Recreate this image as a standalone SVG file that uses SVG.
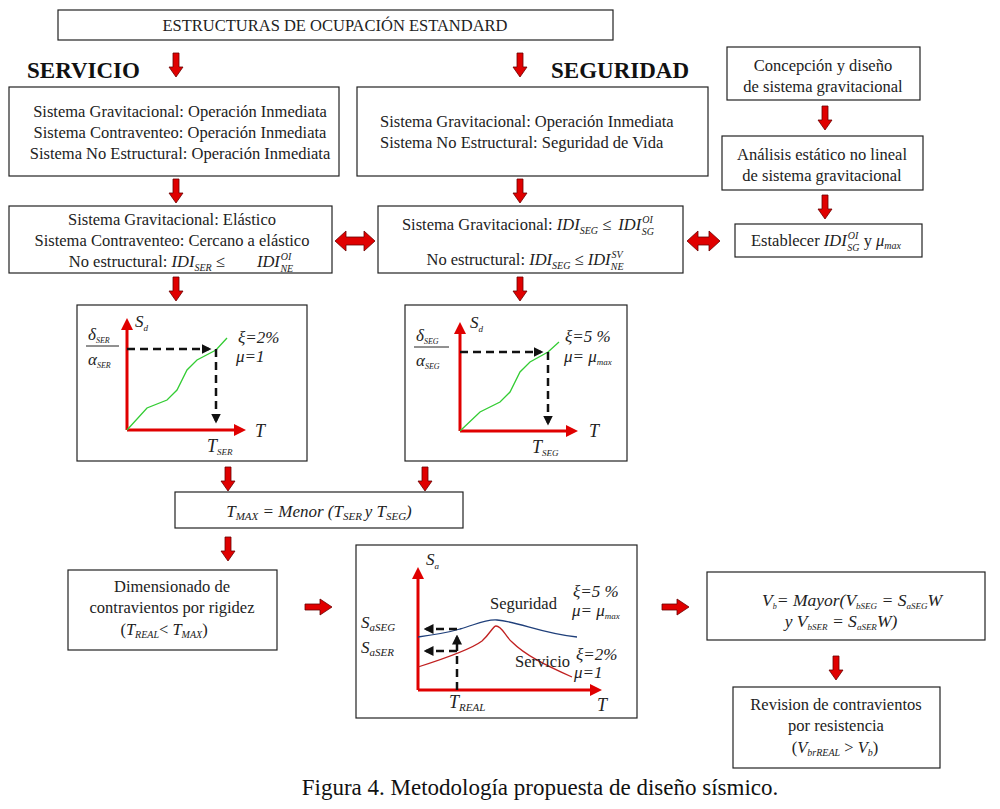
<svg xmlns="http://www.w3.org/2000/svg" width="1000" height="809" viewBox="0 0 1000 809" font-family="Liberation Serif, serif">
<defs>
<style>
.box{fill:#fff;stroke:#222;stroke-width:1.2}
.t{font-family:"Liberation Serif",serif;font-size:16.5px;fill:#222}
.c{text-anchor:middle}
.i{font-style:italic}
.s{font-style:italic;font-size:10px}
.h{font-family:"Liberation Serif",serif;font-size:23px;font-weight:bold;fill:#111}
.arr{fill:#e00000;stroke:#6a0000;stroke-width:0.8}
.ax{stroke:#e00000;stroke-width:3;fill:none}
.dash{stroke:#111;stroke-width:2.5;stroke-dasharray:8,5;fill:none}
.m{font-family:"Liberation Serif",serif;font-style:italic;fill:#222}
</style>
<path id="dn" d="M-3,0 H3 V14 H7 L0,24 L-7,14 H-3 Z"/>
<path id="rt" d="M0,-3 H15 V-8 L27,0 L15,8 V3 H0 Z"/>
<marker id="ra" markerWidth="4" markerHeight="4" refX="2" refY="2" orient="auto" markerUnits="strokeWidth"><path d="M0,0 L4,2 L0,4 Z" fill="#e00000"/></marker>
<marker id="ka" markerWidth="4" markerHeight="4" refX="3" refY="2" orient="auto" markerUnits="strokeWidth"><path d="M0,0 L4,2 L0,4 Z" fill="#111"/></marker>
</defs>
<rect width="1000" height="809" fill="#fff"/>

<g id="top">
<rect class="box" x="58" y="10" width="555" height="30"/>
<text class="t c" x="335" y="31">ESTRUCTURAS DE OCUPACIÓN ESTANDARD</text>
</g>
<text class="h" x="27" y="78">SERVICIO</text>
<text class="h" x="551" y="78">SEGURIDAD</text>

<g id="serv1">
<rect class="box" x="9" y="87" width="330" height="89"/>
<text class="t c" x="180" y="117">Sistema Gravitacional: Operación Inmediata</text>
<text class="t c" x="180" y="138">Sistema Contraventeo: Operación Inmediata</text>
<text class="t c" x="180" y="159">Sistema No Estructural: Operación Inmediata</text>
</g>
<g id="seg1">
<rect class="box" x="357" y="87" width="351" height="89"/>
<text class="t" x="380" y="127">Sistema Gravitacional: Operación Inmediata</text>
<text class="t" x="380" y="148">Sistema No Estructural: Seguridad de Vida</text>
</g>
<g id="grav1">
<rect class="box" x="727" y="47" width="193" height="53"/>
<text class="t c" x="823" y="71">Concepción y diseño</text>
<text class="t c" x="823" y="92">de sistema gravitacional</text>
</g>
<g id="grav2">
<rect class="box" x="722" y="136" width="201" height="54"/>
<text class="t c" x="822" y="160">Análisis estático no lineal</text>
<text class="t c" x="822" y="181">de sistema gravitacional</text>
</g>
<g id="grav3">
<rect class="box" x="735" y="224" width="187" height="33"/>
<text class="t c" x="826" y="246">Establecer <tspan class="i">IDI</tspan><tspan class="s" dx="1" dy="-7">OI</tspan><tspan class="s" dx="-11" dy="12">SG</tspan><tspan dy="-5">  y </tspan><tspan class="i">μ</tspan><tspan class="s" dy="3">max</tspan></text>
</g>

<g id="serv2">
<rect class="box" x="9" y="206" width="323" height="67"/>
<text class="t c" x="172" y="225">Sistema Gravitacional: Elástico</text>
<text class="t c" x="172" y="246">Sistema Contraventeo: Cercano a elástico</text>
<text class="t c" x="181" y="267">No estructural: <tspan class="i">IDI</tspan><tspan class="s" dy="4">SER</tspan><tspan dy="-4"> ≤ </tspan><tspan class="i" dx="28">IDI</tspan><tspan class="s" dx="1" dy="-7">OI</tspan><tspan class="s" dx="-11" dy="12">NE</tspan></text>
</g>
<g id="seg2">
<rect class="box" x="378" y="206" width="305" height="67"/>
<text class="t c" x="528" y="230">Sistema Gravitacional: <tspan class="i">IDI</tspan><tspan class="s" dy="4">SEG</tspan><tspan dy="-4"> ≤ </tspan><tspan class="i" dx="3">IDI</tspan><tspan class="s" dx="1" dy="-7">OI</tspan><tspan class="s" dx="-11" dy="12">SG</tspan></text>
<text class="t c" x="525" y="265">No estructural: <tspan class="i">IDI</tspan><tspan class="s" dy="4">SEG</tspan><tspan dy="-4"> ≤ </tspan><tspan class="i">IDI</tspan><tspan class="s" dx="1" dy="-7">SV</tspan><tspan class="s" dx="-12" dy="12">NE</tspan></text>
</g>

<g id="chartSer">
<rect class="box" x="77" y="305" width="230" height="156"/>
<line class="ax" x1="127" y1="430" x2="127" y2="324" marker-end="url(#ra)"/>
<line class="ax" x1="127" y1="430" x2="240" y2="430" marker-end="url(#ra)"/>
<path d="M127,430 L147,408 L167,400 L177,390 L187,370 L197,360 L216,350 L227,338" fill="none" stroke="#33cc33" stroke-width="1.3"/>
<line class="dash" x1="127" y1="349" x2="209" y2="349" marker-end="url(#ka)"/>
<line class="dash" x1="216" y1="349" x2="216" y2="421" marker-end="url(#ka)"/>
<text class="m" x="135" y="327" font-size="17">S<tspan font-size="9" dy="4">d</tspan></text>
<text class="m" x="88" y="340" font-size="17">δ<tspan font-size="8" dy="3">SER</tspan></text>
<line x1="86" y1="346" x2="119" y2="346" stroke="#222" stroke-width="1"/>
<text class="m" x="88" y="365" font-size="17">α<tspan font-size="8" dy="3">SER</tspan></text>
<text class="m" x="238" y="343" font-size="17">ξ=2%</text>
<text class="m" x="236" y="362" font-size="17">μ=1</text>
<text class="m" x="255" y="437" font-size="18">T</text>
<text class="m" x="207" y="452" font-size="18">T<tspan font-size="9" dy="3">SER</tspan></text>
</g>

<g id="chartSeg">
<rect class="box" x="405" y="305" width="222" height="156"/>
<line class="ax" x1="460" y1="431" x2="460" y2="328" marker-end="url(#ra)"/>
<line class="ax" x1="460" y1="431" x2="572" y2="431" marker-end="url(#ra)"/>
<path d="M460,431 L480,412 L500,402 L510,392 L520,372 L530,362 L548,352 L559,342" fill="none" stroke="#33cc33" stroke-width="1.3"/>
<line class="dash" x1="460" y1="352" x2="541" y2="352" marker-end="url(#ka)"/>
<line class="dash" x1="548" y1="352" x2="548" y2="423" marker-end="url(#ka)"/>
<text class="m" x="470" y="328" font-size="17">S<tspan font-size="9" dy="4">d</tspan></text>
<text class="m" x="416" y="341" font-size="17">δ<tspan font-size="8" dy="3">SEG</tspan></text>
<line x1="414" y1="347" x2="449" y2="347" stroke="#222" stroke-width="1"/>
<text class="m" x="416" y="366" font-size="17">α<tspan font-size="8" dy="3">SEG</tspan></text>
<text class="m" x="565" y="342" font-size="17">ξ=5 %</text>
<text class="m" x="564" y="362" font-size="17">μ= μ<tspan font-size="9" dy="3">max</tspan></text>
<text class="m" x="589" y="437" font-size="18">T</text>
<text class="m" x="532" y="453" font-size="18">T<tspan font-size="9" dy="3">SEG</tspan></text>
</g>

<g id="tmax">
<rect class="box" x="175" y="492" width="288" height="36"/>
<text class="m c" x="319" y="517" font-size="17">T<tspan font-size="11" dy="3">MAX</tspan><tspan dy="-3"> = Menor (T</tspan><tspan font-size="11" dy="3">SER </tspan><tspan dy="-3">y T</tspan><tspan font-size="11" dy="3">SEG</tspan><tspan dy="-3">)</tspan></text>
</g>

<g id="dimens">
<rect class="box" x="68" y="570" width="209" height="80"/>
<text class="t c" x="172" y="592">Dimensionado de</text>
<text class="t c" x="172" y="613">contravientos por rigidez</text>
<text class="t c" x="164" y="635">(<tspan class="i">T</tspan><tspan class="s" dy="3">REAL</tspan><tspan dy="-3">&lt; </tspan><tspan class="i">T</tspan><tspan class="s" dy="3">MAX</tspan><tspan dy="-3">)</tspan></text>
</g>

<g id="chartSa">
<rect class="box" x="356" y="545" width="281" height="173"/>
<line class="ax" x1="418" y1="690" x2="418" y2="573" marker-end="url(#ra)"/>
<line class="ax" x1="418" y1="690" x2="596" y2="690" marker-end="url(#ra)"/>
<path d="M418,637 C440,634 450,632 460,629 C475,625 485,619 497,620 C520,622 540,633 577,637" fill="none" stroke="#1f3f7a" stroke-width="1.3"/>
<path d="M418,667 C440,660 470,650 482,641 C490,634 493,626 496,626 C502,626 505,636 512,642 C525,655 545,665 572,677" fill="none" stroke="#c02020" stroke-width="1.3"/>
<line class="dash" x1="457" y1="629" x2="426" y2="629" marker-end="url(#ka)"/>
<line class="dash" x1="457" y1="651" x2="426" y2="651" marker-end="url(#ka)"/>
<line class="dash" x1="457" y1="690" x2="457" y2="637" marker-end="url(#ka)"/>
<text class="m" x="426" y="565" font-size="17">S<tspan font-size="9" dy="4">a</tspan></text>
<text class="m" x="361" y="628" font-size="17">S<tspan font-size="11" dy="3">aSEG</tspan></text>
<text class="m" x="361" y="653" font-size="17">S<tspan font-size="11" dy="3">aSER</tspan></text>
<text class="t" x="490" y="609" font-size="17">Seguridad</text>
<text class="t" x="515" y="667" font-size="17">Servicio</text>
<text class="m" x="573" y="597" font-size="17">ξ=5 %</text>
<text class="m" x="572" y="616" font-size="17">μ= μ<tspan font-size="9" dy="3">max</tspan></text>
<text class="m" x="576" y="660" font-size="17">ξ=2%</text>
<text class="m" x="574" y="678" font-size="17">μ=1</text>
<text class="m" x="449" y="708" font-size="18">T<tspan font-size="11" dy="3">REAL</tspan></text>
<text class="m" x="597" y="711" font-size="18">T</text>
</g>

<g id="vb">
<rect class="box" x="707" y="572" width="278" height="68"/>
<text class="m c" x="852" y="606" font-size="17.5">V<tspan font-size="8" dy="3">b</tspan><tspan dy="-3">= Mayor(V</tspan><tspan font-size="9" dy="3">bSEG</tspan><tspan dy="-3"> = S</tspan><tspan font-size="9" dy="3">aSEG</tspan><tspan dy="-3">W</tspan></text>
<text class="m c" x="841" y="627" font-size="17.5">y V<tspan font-size="9" dy="3">bSER</tspan><tspan dy="-3"> = S</tspan><tspan font-size="9" dy="3">aSER</tspan><tspan dy="-3">W)</tspan></text>
</g>

<g id="revision">
<rect class="box" x="733" y="687" width="207" height="81"/>
<text class="t c" x="836" y="710">Revision de contravientos</text>
<text class="t c" x="836" y="731">por resistencia</text>
<text class="t c" x="835" y="753">(<tspan class="i">V</tspan><tspan class="s" dy="3">brREAL</tspan><tspan dy="-3"> &gt; </tspan><tspan class="i">V</tspan><tspan class="s" dy="3">b</tspan><tspan dy="-3">)</tspan></text>
</g>

<g id="connectors">
<use href="#dn" class="arr" x="176" y="53"/>
<use href="#dn" class="arr" x="520" y="53"/>
<use href="#dn" class="arr" x="176" y="179"/>
<use href="#dn" class="arr" x="520" y="179"/>
<use href="#dn" class="arr" x="176" y="277"/>
<use href="#dn" class="arr" x="520" y="277"/>
<use href="#dn" class="arr" x="825" y="106"/>
<use href="#dn" class="arr" x="825" y="195"/>
<use href="#dn" class="arr" x="228" y="467"/>
<use href="#dn" class="arr" x="425" y="467"/>
<use href="#dn" class="arr" x="228" y="537"/>
<use href="#dn" class="arr" x="836" y="656"/>
<path class="arr" d="M335,241 L346,231 V237 H364 V231 L375,241 L364,251 V245 H346 V251 Z"/>
<path class="arr" d="M687,241 L698,231 V237 H709 V231 L720,241 L709,251 V245 H698 V251 Z"/>
<use href="#rt" class="arr" x="305" y="607"/>
<use href="#rt" class="arr" x="662" y="607"/>
</g>

<text x="540" y="795" font-family="Liberation Serif,serif" font-size="23" text-anchor="middle" fill="#111">Figura 4. Metodología propuesta de diseño sísmico.</text>
</svg>
